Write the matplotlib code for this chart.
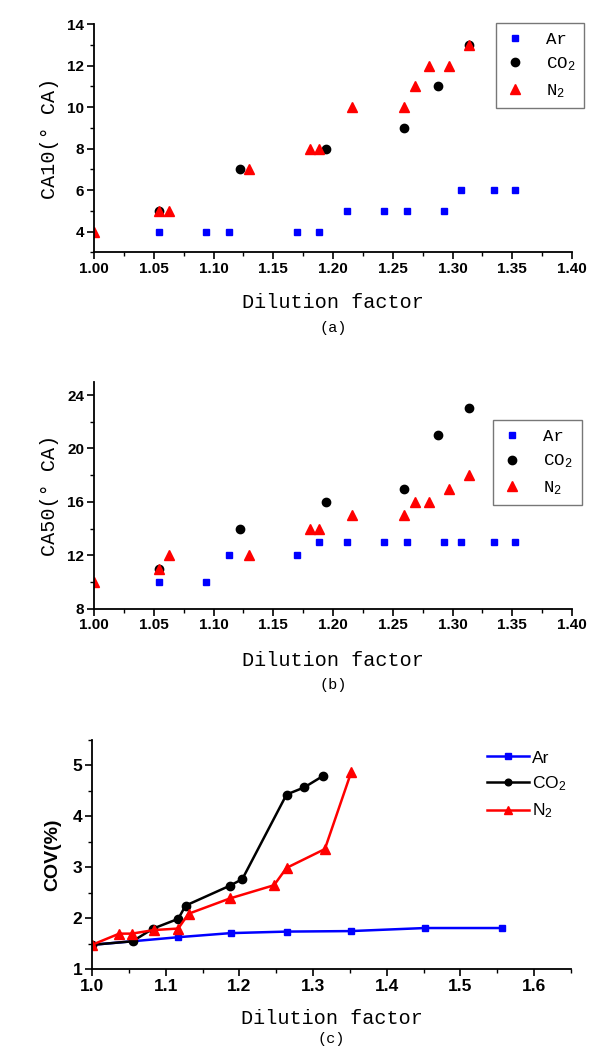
import matplotlib
matplotlib.use("Agg")
import matplotlib.pyplot as plt
from matplotlib.ticker import MultipleLocator, FormatStrFormatter

# ---------------- data ----------------
# panel (a) CA10
a_ar_x = [1.054, 1.094, 1.113, 1.170, 1.188, 1.212, 1.243, 1.262, 1.293, 1.307, 1.335, 1.352]
a_ar_y = [4, 4, 4, 4, 4, 5, 5, 5, 5, 6, 6, 6]
a_co2_x = [1.054, 1.122, 1.194, 1.259, 1.288, 1.314]
a_co2_y = [5, 7, 8, 9, 11, 13]
a_n2_x = [1.000, 1.054, 1.063, 1.130, 1.181, 1.188, 1.216, 1.259, 1.269, 1.280, 1.297, 1.314]
a_n2_y = [4, 5, 5, 7, 8, 8, 10, 10, 11, 12, 12, 13]

# panel (b) CA50
b_ar_x = [1.054, 1.094, 1.113, 1.170, 1.188, 1.212, 1.243, 1.262, 1.293, 1.307, 1.335, 1.352]
b_ar_y = [10, 10, 12, 12, 13, 13, 13, 13, 13, 13, 13, 13]
b_co2_x = [1.054, 1.122, 1.194, 1.259, 1.288, 1.314]
b_co2_y = [11, 14, 16, 17, 21, 23]
b_n2_x = [1.000, 1.054, 1.063, 1.130, 1.181, 1.188, 1.216, 1.259, 1.269, 1.280, 1.297, 1.314]
b_n2_y = [10, 11, 12, 12, 14, 14, 15, 15, 16, 16, 17, 18]

# panel (c) COV
c_ar_x = [1.000, 1.055, 1.117, 1.188, 1.264, 1.351, 1.452, 1.557]
c_ar_y = [1.48, 1.55, 1.63, 1.71, 1.74, 1.75, 1.81, 1.81]
c_co2_x = [1.000, 1.055, 1.083, 1.117, 1.127, 1.187, 1.204, 1.264, 1.288, 1.313]
c_co2_y = [1.48, 1.55, 1.80, 1.99, 2.25, 2.64, 2.77, 4.43, 4.57, 4.79]
c_n2_x = [1.000, 1.037, 1.054, 1.084, 1.117, 1.131, 1.187, 1.247, 1.264, 1.316, 1.352]
c_n2_y = [1.48, 1.70, 1.70, 1.77, 1.80, 2.09, 2.39, 2.65, 2.99, 3.36, 4.88]

labels = ["Ar", r"$\mathregular{CO_2}$", r"$\mathregular{N_2}$"]
captions = ["(a)", "(b)", "(c)"]

# ---------------- style ----------------
SERIF = "Liberation Mono"
SANS = "Liberation Sans"
BLUE, BLACK, RED = "#0000ff", "#000000", "#ff0000"

W, H = 595, 1046
fig = plt.figure(figsize=(W / 100, H / 100), dpi=100)
fig.patch.set_facecolor("white")


def px_axes(left, right, top, bottom):
    return fig.add_axes([left / W, 1 - bottom / H, (right - left) / W, (bottom - top) / H])


def style_axes(ax, tick_size):
    for s in ["top", "right"]:
        ax.spines[s].set_visible(False)
    for s in ["left", "bottom"]:
        ax.spines[s].set_linewidth(1.3)
    ax.tick_params(which="major", direction="out", length=5, width=1.2, pad=2)
    ax.tick_params(which="minor", direction="out", length=3, width=1.0)
    for lab in ax.get_xticklabels() + ax.get_yticklabels():
        lab.set_fontfamily(SANS)
        lab.set_fontweight("bold")
        lab.set_fontsize(tick_size)


# ---------- panel (a) ----------
axa = px_axes(94, 572, 24.3, 252.3)
axa.plot(a_ar_x, a_ar_y, ls="none", marker="s", ms=5, color=BLUE, label=labels[0])
axa.plot(a_co2_x, a_co2_y, ls="none", marker="o", ms=6, color=BLACK, label=labels[1])
axa.plot(a_n2_x, a_n2_y, ls="none", marker="^", ms=7, color=RED, label=labels[2])
axa.set_xlim(1.0, 1.4)
axa.set_ylim(3, 14)
axa.xaxis.set_major_locator(MultipleLocator(0.05))
axa.xaxis.set_minor_locator(MultipleLocator(0.025))
axa.xaxis.set_major_formatter(FormatStrFormatter("%.2f"))
axa.yaxis.set_major_locator(MultipleLocator(2))
axa.yaxis.set_minor_locator(MultipleLocator(1))
style_axes(axa, 11)
axa.set_ylabel("CA10(° CA)", family=SERIF, fontsize=14.5, labelpad=6)
leg = axa.legend(loc="upper right", bbox_to_anchor=(1.025, 1.006), borderaxespad=0,
                 frameon=True, fancybox=False, edgecolor="#555555",
                 prop={"family": SERIF, "size": 12.5}, handletextpad=1.2,
                 labelspacing=0.5, borderpad=0.5, handlelength=1.2)
leg.get_frame().set_linewidth(1.0)

# ---------- panel (b) ----------
axb = px_axes(94, 572, 381.7, 608.7)
axb.plot(b_ar_x, b_ar_y, ls="none", marker="s", ms=5, color=BLUE, label=labels[0])
axb.plot(b_co2_x, b_co2_y, ls="none", marker="o", ms=6, color=BLACK, label=labels[1])
axb.plot(b_n2_x, b_n2_y, ls="none", marker="^", ms=7, color=RED, label=labels[2])
axb.set_xlim(1.0, 1.4)
axb.set_ylim(8, 25)
axb.xaxis.set_major_locator(MultipleLocator(0.05))
axb.xaxis.set_minor_locator(MultipleLocator(0.025))
axb.xaxis.set_major_formatter(FormatStrFormatter("%.2f"))
axb.yaxis.set_major_locator(MultipleLocator(4))
axb.yaxis.set_minor_locator(MultipleLocator(2))
style_axes(axb, 11)
axb.set_ylabel("CA50(° CA)", family=SERIF, fontsize=14.5, labelpad=6)
leg = axb.legend(loc="upper right", bbox_to_anchor=(1.020, 0.831), borderaxespad=0,
                 frameon=True, fancybox=False, edgecolor="#555555",
                 prop={"family": SERIF, "size": 12.5}, handletextpad=1.2,
                 labelspacing=0.5, borderpad=0.5, handlelength=1.2)
leg.get_frame().set_linewidth(1.0)

# ---------- panel (c) ----------
axc = px_axes(92, 571, 740, 969.3)
axc.plot(c_ar_x, c_ar_y, marker="s", ms=5, lw=1.8, color=BLUE, label=labels[0])
axc.plot(c_co2_x, c_co2_y, marker="o", ms=6, lw=1.8, color=BLACK, label=labels[1])
axc.plot(c_n2_x, c_n2_y, marker="^", ms=6.5, lw=1.8, color=RED, label=labels[2])
axc.set_xlim(1.0, 1.65)
axc.set_ylim(1, 5.5)
axc.xaxis.set_major_locator(MultipleLocator(0.1))
axc.xaxis.set_minor_locator(MultipleLocator(0.05))
axc.xaxis.set_major_formatter(FormatStrFormatter("%.1f"))
axc.yaxis.set_major_locator(MultipleLocator(1))
axc.yaxis.set_minor_locator(MultipleLocator(0.5))
style_axes(axc, 12.5)
axc.set_ylabel("COV(%)", family=SANS, fontweight="bold", fontsize=14, labelpad=8)
axc.legend(loc="upper left", bbox_to_anchor=(0.81, 0.985), borderaxespad=0,
           frameon=False, prop={"family": SANS, "size": 12.5},
           handlelength=2.4, handletextpad=0.2, labelspacing=0.5, markerscale=0.8)

# ---------- x labels and captions ----------
for ax, cap, ylab, ycap in [(axa, captions[0], 303, 328), (axb, captions[1], 660, 685),
                            (axc, captions[2], 1019, 1039)]:
    pos = ax.get_position()
    xc = (pos.x0 + pos.x1) / 2
    fig.text(xc, 1 - ylab / H, "Dilution factor", family=SERIF, fontsize=14.5,
             ha="center", va="center")
    fig.text(xc, 1 - ycap / H, cap, family=SERIF, fontsize=11, ha="center", va="center")

fig.savefig("out.png", dpi=100, facecolor="white")
